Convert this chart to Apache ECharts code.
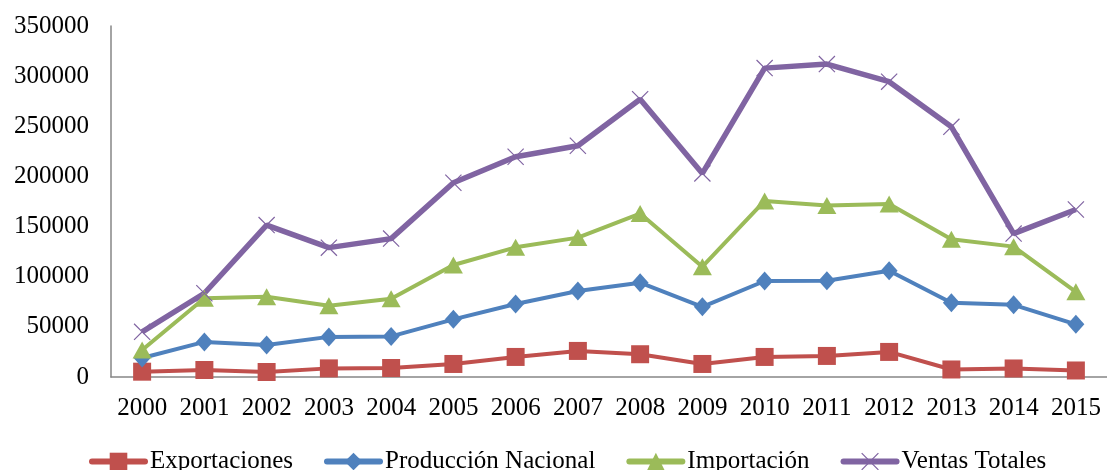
<!DOCTYPE html>
<html>
<head>
<meta charset="utf-8">
<script src="https://cdn.jsdelivr.net/npm/echarts@6/dist/echarts.min.js"></script>
<style>
  html, body { margin: 0; padding: 0; background: #ffffff; }
  #chart { width: 1107px; height: 470px; }
</style>
</head>
<body>
<div id="chart"></div>
<script>
const years = ["2000", "2001", "2002", "2003", "2004", "2005", "2006", "2007",
  "2008", "2009", "2010", "2011", "2012", "2013", "2014", "2015"];

const exportaciones = [5300, 7000, 5000, 8600, 9000, 13000, 20000, 26000,
  22700, 13000, 20000, 21000, 25000, 7500, 8500, 6500];
const produccionNacional = [19000, 35000, 32000, 40000, 40500, 57500, 72800, 85700,
  94000, 70000, 95700, 96000, 106000, 74000, 72000, 52500];
const importacion = [27000, 78500, 80000, 71000, 78000, 111700, 129300, 139000,
  163000, 110000, 175500, 171000, 172500, 137300, 130000, 85000];
const ventasTotales = [45000, 83500, 151500, 129000, 138000, 193700, 219600, 230600,
  277000, 203000, 308000, 312000, 294500, 249500, 143000, 167000];

// thin X made of two filled bars
const crossPath = "path://M0,1L1,0L20,19L19,20Z M19,0L20,1L1,20L0,19Z";
const font = "'Liberation Serif', 'Times New Roman', serif";

const chart = echarts.init(document.getElementById("chart"), null, { renderer: "canvas" });

function lineSeries(name, data, color, symbol, size, width) {
  return {
    name,
    type: "line",
    data,
    symbol,
    symbolSize: size,
    showAllSymbol: true,
    lineStyle: { color, width },
    itemStyle: { color },
    animation: false,
  };
}

chart.setOption({
  animation: false,
  textStyle: { fontFamily: font },
  grid: { left: 111, right: -7, top: 26, bottom: 93 },
  legend: {
    top: 444,
    left: 84,
    itemWidth: 53,
    itemHeight: 22,
    itemGap: 31,
    lineStyle: { width: 6, cap: "round" },
    textStyle: { fontFamily: font, fontSize: 25, color: "#000000" },
    data: ["Exportaciones", "Producción Nacional", "Importación", "Ventas Totales"],
  },
  xAxis: {
    type: "category",
    data: years,
    boundaryGap: true,
    axisLine: { lineStyle: { color: "#868686", width: 1.5 } },
    axisTick: { show: false },
    axisLabel: { color: "#000000", fontFamily: font, fontSize: 25, margin: 19, interval: 0 },
  },
  yAxis: {
    type: "value",
    min: 0,
    max: 350000,
    interval: 50000,
    axisLine: { show: true, lineStyle: { color: "#868686", width: 1.5 } },
    axisTick: { show: false },
    splitLine: { show: false },
    axisLabel: {
      color: "#000000", fontFamily: font, fontSize: 25, margin: 22,
      formatter: (v) => String(v),
    },
  },
  series: [
    lineSeries("Exportaciones", exportaciones, "#C0504D", "rect", 18, 4),
    lineSeries("Producción Nacional", produccionNacional, "#4F81BD", "diamond", [17, 19], 4),
    lineSeries("Importación", importacion, "#9BBB59", "triangle", [19, 17], 4),
    lineSeries("Ventas Totales", ventasTotales, "#8064A2", crossPath, 17, 5.5),
  ],
});
</script>
</body>
</html>
